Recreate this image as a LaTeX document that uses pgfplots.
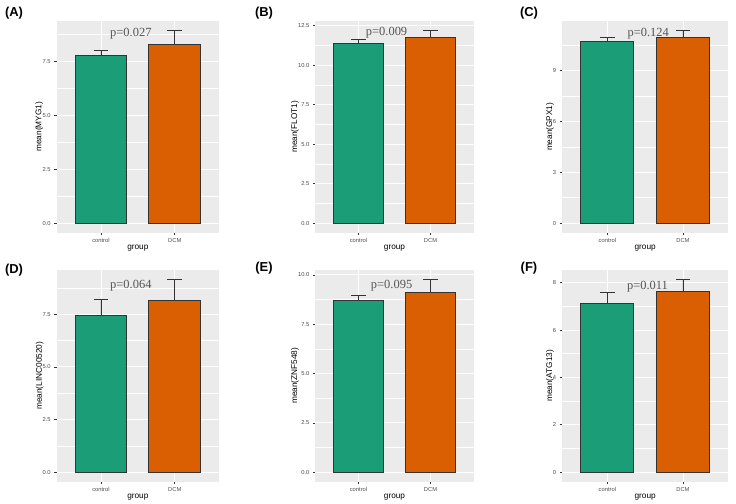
\documentclass[border=0pt]{standalone}
\usepackage{fontspec}
\setmainfont{Liberation Sans}
\newfontfamily\pfont{Liberation Serif}
\usepackage{pgfplots}
\pgfplotsset{compat=1.18}
\definecolor{ggbg}{HTML}{EBEBEB}
\definecolor{cgreen}{HTML}{1B9E77}
\definecolor{corange}{HTML}{D95F02}
\definecolor{gg30}{HTML}{4D4D4D}
\definecolor{gg20}{HTML}{333333}
\definecolor{pcol}{HTML}{555555}
\tikzset{pstyle/.style={font=\pfont\fontsize{12.5}{14}\selectfont, text=pcol}}
\pgfplotsset{
  ggpanel/.style={
    scale only axis,
    anchor=south west,
    xmin=0.4, xmax=2.6,
    xtick={1,2}, xticklabels={control,DCM},
    axis background/.style={fill=ggbg},
    axis line style={draw=none},
    grid=both,
    major grid style={white, line width=0.9bp},
    minor grid style={white, line width=0.45bp},
    tick align=outside,
    tick pos=left,
    major tick length=2.5bp,
    minor tick length=0pt,
    every tick/.style={gg20, line width=0.5bp},
    tick label style={font=\fontsize{5.8}{6.5}\selectfont, text=gg30},
    /pgf/number format/assume math mode=true,
    label style={font=\fontsize{8.3}{9}\selectfont, text=black},
    xlabel={group},
    xlabel style={at={(axis description cs:0.5,-0.074)}, anchor=center},
    clip=false,
  },
  ggbar/.style={ybar, bar width=0.7, bar shift=0pt, draw=gg20, line width=0.85bp,
    error bars/y dir=plus, error bars/y explicit,
    error bars/error mark=-,
    error bars/error bar style={gg20, line width=0.85bp},
    error bars/error mark options={rotate=90, gg20, mark size=7.4bp, line width=0.85bp}},
}
\begin{document}
\begin{tikzpicture}[x=1bp,y=1bp]
\path (0,0) rectangle (736,504);

% (A)
\begin{axis}[ggpanel, at={(56.7bp,271.3bp)}, width=162.3bp, height=211.7bp,
  ymin=-0.447, ymax=9.387, ytick={0,2.5,5,7.5}, yticklabels={0.0,2.5,5.0,7.5},
  minor ytick={1.25,3.75,6.25,8.75},
  ylabel={mean(MYG1)}, ylabel style={at={(axis description cs:-0.107,0.5)}, anchor=center}]
\addplot[fill=cgreen, ggbar] coordinates {(1,7.78) +- (0,0.22)};
\addplot[fill=corange, ggbar] coordinates {(2,8.32) +- (0,0.62)};
\node[pstyle] at (axis cs:1.405,8.81) {p=0.027};
\end{axis}

% (B)
\begin{axis}[ggpanel, at={(315.3bp,271.3bp)}, width=158.4bp, height=211.7bp,
  ymin=-0.61, ymax=12.80, ytick={0,2.5,5,7.5,10,12.5}, yticklabels={0.0,2.5,5.0,7.5,10.0,12.5},
  minor ytick={1.25,3.75,6.25,8.75,11.25},
  ylabel={mean(FLOT1)}, ylabel style={at={(axis description cs:-0.128,0.5)}, anchor=center}]
\addplot[fill=cgreen, ggbar] coordinates {(1,11.39) +- (0,0.26)};
\addplot[fill=corange, ggbar] coordinates {(2,11.75) +- (0,0.44)};
\node[pstyle] at (axis cs:1.39,12.03) {p=0.009};
\end{axis}

% (C)
\begin{axis}[ggpanel, at={(562bp,271.3bp)}, width=166.3bp, height=211.7bp,
  ymin=-0.568, ymax=11.93, ytick={0,3,6,9}, yticklabels={0,3,6,9},
  minor ytick={1.5,4.5,7.5,10.5},
  ylabel={mean(GPX1)}, ylabel style={at={(axis description cs:-0.072,0.5)}, anchor=center}]
\addplot[fill=cgreen, ggbar] coordinates {(1,10.75) +- (0,0.18)};
\addplot[fill=corange, ggbar] coordinates {(2,10.93) +- (0,0.43)};
\node[pstyle] at (axis cs:1.54,11.2) {p=0.124};
\end{axis}

% (D)
\begin{axis}[ggpanel, at={(56.7bp,22.3bp)}, width=162.3bp, height=211.7bp,
  ymin=-0.457, ymax=9.597, ytick={0,2.5,5,7.5}, yticklabels={0.0,2.5,5.0,7.5},
  minor ytick={1.25,3.75,6.25,8.75},
  ylabel={mean(LINC00520)}, ylabel style={at={(axis description cs:-0.105,0.5)}, anchor=center}]
\addplot[fill=cgreen, ggbar] coordinates {(1,7.43) +- (0,0.79)};
\addplot[fill=corange, ggbar] coordinates {(2,8.14) +- (0,1.00)};
\node[pstyle] at (axis cs:1.405,8.84) {p=0.064};
\end{axis}

% (E)
\begin{axis}[ggpanel, at={(315.3bp,22.3bp)}, width=158.4bp, height=211.7bp,
  ymin=-0.488, ymax=10.25, ytick={0,2.5,5,7.5,10}, yticklabels={0.0,2.5,5.0,7.5,10.0},
  minor ytick={1.25,3.75,6.25,8.75},
  ylabel={mean(ZNF548)}, ylabel style={at={(axis description cs:-0.128,0.5)}, anchor=center}]
\addplot[fill=cgreen, ggbar] coordinates {(1,8.72) +- (0,0.25)};
\addplot[fill=corange, ggbar] coordinates {(2,9.10) +- (0,0.66)};
\node[pstyle] at (axis cs:1.46,9.44) {p=0.095};
\end{axis}

% (F)
\begin{axis}[ggpanel, at={(562bp,22.3bp)}, width=166.3bp, height=211.7bp,
  ymin=-0.407, ymax=8.537, ytick={0,2,4,6,8}, yticklabels={0,2,4,6,8},
  minor ytick={1,3,5,7},
  ylabel={mean(ATG13)}, ylabel style={at={(axis description cs:-0.072,0.5)}, anchor=center}]
\addplot[fill=cgreen, ggbar] coordinates {(1,7.14) +- (0,0.44)};
\addplot[fill=corange, ggbar] coordinates {(2,7.65) +- (0,0.48)};
\node[pstyle] at (axis cs:1.53,7.83) {p=0.011};
\end{axis}

\node[font=\bfseries\fontsize{13}{15}\selectfont] at (14,490.5) {(A)};
\node[font=\bfseries\fontsize{13}{15}\selectfont] at (264,490.7) {(B)};
\node[font=\bfseries\fontsize{13}{15}\selectfont] at (529,490.7) {(C)};
\node[font=\bfseries\fontsize{13}{15}\selectfont] at (14,234.3) {(D)};
\node[font=\bfseries\fontsize{13}{15}\selectfont] at (264,235.5) {(E)};
\node[font=\bfseries\fontsize{13}{15}\selectfont] at (529,235.5) {(F)};
\end{tikzpicture}
\end{document}
